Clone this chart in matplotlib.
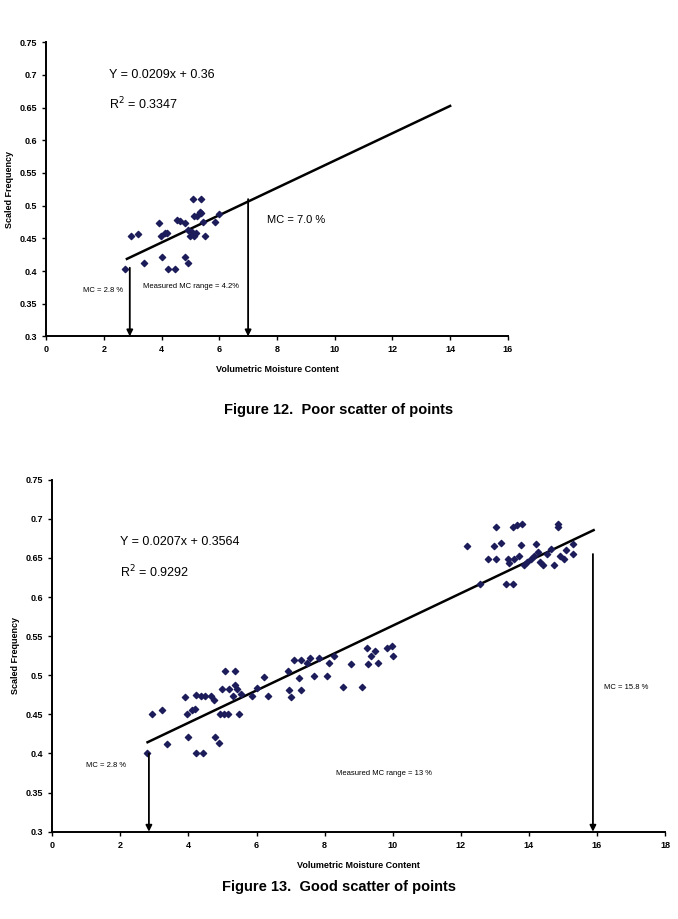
import matplotlib
matplotlib.use("Agg")
from matplotlib import pyplot as plt
from matplotlib.ticker import FuncFormatter

plt.rcParams['font.family'] = ['Liberation Sans', 'DejaVu Sans']

# Figure 12 data (poor scatter)
poor_x = [2.75, 2.95, 3.19, 3.38, 3.90, 3.97, 4.11, 4.19, 4.02, 4.23, 4.45, 4.52, 4.63,
          4.80, 4.80, 4.91, 5.09, 5.37, 5.12, 5.24, 5.33, 5.38, 5.44, 5.49, 5.12, 5.00,
          5.05, 5.18, 4.90, 5.84, 6.00]
poor_y = [0.403, 0.453, 0.457, 0.413, 0.473, 0.453, 0.458, 0.458, 0.422, 0.403, 0.403,
          0.478, 0.476, 0.473, 0.422, 0.413, 0.510, 0.510, 0.484, 0.484, 0.490, 0.488,
          0.475, 0.453, 0.453, 0.453, 0.460, 0.458, 0.462, 0.475, 0.487]
poor_fit = (0.0209, 0.36)
poor_fit_x = [2.8, 14.0]

# Figure 13 data (good scatter)
good_x = [2.78, 2.93, 3.21, 3.38, 3.89, 3.95, 4.10, 4.19, 4.00, 4.23, 4.42, 4.23, 4.36,
          4.48, 4.67, 4.76, 4.77, 4.89, 4.92, 5.05, 5.15, 4.99, 5.08, 5.18, 5.37, 5.37,
          5.43, 5.49, 5.30, 5.55, 5.87, 6.00, 6.22, 6.35, 6.92, 6.94, 7.02, 7.09, 7.26,
          7.32, 7.32, 7.47, 7.58, 7.70, 7.83, 8.06, 8.14, 8.28, 8.55, 8.78, 9.11, 9.25,
          9.28, 9.37, 9.47, 9.57, 9.82, 9.97, 10.00, 12.18, 12.55, 12.79, 12.98, 13.03,
          13.03, 13.19, 13.32, 13.38, 13.41, 13.54, 13.54, 13.64, 13.79, 13.57, 13.70,
          13.76, 13.86, 13.95, 14.07, 14.14, 14.20, 14.27, 14.33, 14.42, 14.52, 14.65,
          14.75, 14.85, 14.85, 14.90, 15.03, 15.09, 15.28, 15.28]
good_y = [0.400, 0.451, 0.456, 0.412, 0.472, 0.451, 0.456, 0.457, 0.421, 0.401, 0.401,
          0.475, 0.474, 0.473, 0.474, 0.469, 0.421, 0.413, 0.451, 0.451, 0.451, 0.482,
          0.506, 0.482, 0.506, 0.488, 0.482, 0.451, 0.474, 0.476, 0.473, 0.484, 0.498,
          0.473, 0.506, 0.481, 0.472, 0.519, 0.497, 0.481, 0.519, 0.516, 0.522, 0.499,
          0.522, 0.499, 0.516, 0.524, 0.485, 0.515, 0.485, 0.535, 0.515, 0.524, 0.531,
          0.516, 0.535, 0.537, 0.524, 0.665, 0.617, 0.649, 0.665, 0.690, 0.649, 0.669,
          0.617, 0.649, 0.643, 0.617, 0.690, 0.692, 0.694, 0.649, 0.652, 0.666, 0.641,
          0.645, 0.649, 0.653, 0.668, 0.657, 0.645, 0.641, 0.655, 0.661, 0.641, 0.694,
          0.690, 0.653, 0.649, 0.660, 0.668, 0.655]
good_fit = (0.0207, 0.3564)
good_fit_x = [2.8, 15.9]

fig = plt.figure(figsize=(6.78, 9.19), dpi=100)
ax1 = fig.add_axes([0.068, 0.634, 0.681, 0.320])
ax2 = fig.add_axes([0.077, 0.095, 0.904, 0.383])

ytick_fmt = FuncFormatter(lambda v, p: f"{v:g}")


def style_axes(ax, xmax):
    ax.set_xlim(0, xmax)
    ax.set_ylim(0.3, 0.75)
    ax.set_xticks(range(0, xmax + 1, 2))
    ax.set_yticks([0.3, 0.35, 0.4, 0.45, 0.5, 0.55, 0.6, 0.65, 0.7, 0.75])
    ax.yaxis.set_major_formatter(ytick_fmt)
    for s in ['top', 'right']:
        ax.spines[s].set_visible(False)
    for s in ['left', 'bottom']:
        ax.spines[s].set_linewidth(1.4)
    ax.tick_params(labelsize=6.5, length=3, width=1)
    for lab in ax.get_xticklabels() + ax.get_yticklabels():
        lab.set_fontweight('bold')
    ax.set_xlabel('Volumetric Moisture Content', fontsize=6.5, fontweight='bold')
    ax.set_ylabel('Scaled Frequency', fontsize=6.5, fontweight='bold')


def arrow_down(ax, x, y_top):
    ax.annotate('', xy=(x, 0.3), xytext=(x, y_top),
                arrowprops=dict(arrowstyle='-|>', color='black', lw=1.3,
                                mutation_scale=9, shrinkA=0, shrinkB=0))


# Figure 12
ax1.scatter(poor_x, poor_y, marker='D', s=10, color='#1c1c5a', zorder=3)
ax1.plot(poor_fit_x, [poor_fit[0] * x + poor_fit[1] for x in poor_fit_x],
         color='black', lw=1.8)
style_axes(ax1, 16)
ax1.xaxis.labelpad = 8
arrow_down(ax1, 2.9, 0.405)
arrow_down(ax1, 7.0, 0.51)
ax1.text(2.18, 0.70, 'Y = 0.0209x + 0.36', fontsize=9, va='center')
ax1.text(2.18, 0.655, 'R$^2$ = 0.3347', fontsize=9, va='center')
ax1.text(7.65, 0.478, 'MC = 7.0 %', fontsize=8, va='center')
ax1.text(1.28, 0.370, 'MC = 2.8 %', fontsize=5.5, va='center')
ax1.text(3.35, 0.377, 'Measured MC range = 4.2%', fontsize=5.5, va='center')
fig.text(0.5, 0.554, 'Figure 12.  Poor scatter of points', ha='center', va='center',
         fontsize=10.5, fontweight='bold')

# Figure 13
ax2.scatter(good_x, good_y, marker='D', s=10, color='#1c1c5a', zorder=3)
ax2.plot(good_fit_x, [good_fit[0] * x + good_fit[1] for x in good_fit_x],
         color='black', lw=1.8)
style_axes(ax2, 18)
ax2.xaxis.labelpad = 8
arrow_down(ax2, 2.84, 0.40)
arrow_down(ax2, 15.88, 0.655)
ax2.text(2.0, 0.67, 'Y = 0.0207x + 0.3564', fontsize=9, va='center')
ax2.text(2.0, 0.632, 'R$^2$ = 0.9292', fontsize=9, va='center')
ax2.text(16.2, 0.484, 'MC = 15.8 %', fontsize=5.5, va='center')
ax2.text(1.0, 0.385, 'MC = 2.8 %', fontsize=5.5, va='center')
ax2.text(8.33, 0.374, 'Measured MC range = 13 %', fontsize=5.5, va='center')
fig.text(0.5, 0.035, 'Figure 13.  Good scatter of points', ha='center', va='center',
         fontsize=10.5, fontweight='bold')

fig.savefig('out.png', dpi=100)
